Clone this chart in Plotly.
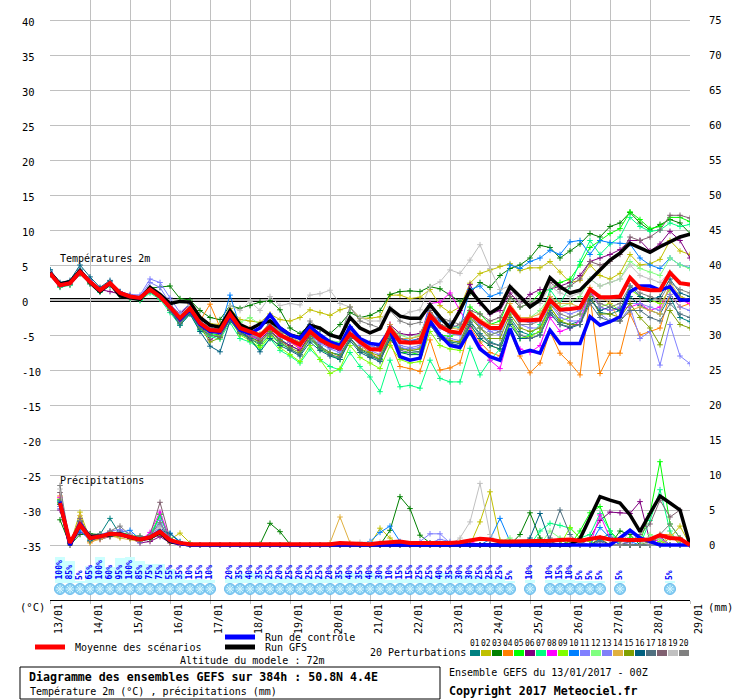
import plotly.graph_objects as go

# ---------------- data ----------------
hours = list(range(0, 385, 6))            # 65 steps of 6 h (13/01 00Z .. 29/01 00Z)
precip_hours = hours[1:]                  # 6-h totals valid at end of each step
day_hours = list(range(0, 385, 24))
day_labels = ["13/01", "14/01", "15/01", "16/01", "17/01", "18/01", "19/01", "20/01", "21/01",
              "22/01", "23/01", "24/01", "25/01", "26/01", "27/01", "28/01", "29/01"]
temp_ticks = list(range(-35, 41, 5))
precip_ticks = list(range(0, 76, 5))

member_names = ["01", "02", "03", "04", "05", "06", "07", "08", "09", "10",
                "11", "12", "13", "14", "15", "16", "17", "18", "19", "20"]
member_colors = ["#008080", "#c0c000", "#008000", "#ff8000", "#00ff00", "#800080", "#00ff80",
                 "#ff00ff", "#80ff00", "#0080ff", "#8080ff", "#80ff80", "#8080f8", "#e0b040",
                 "#80a000", "#006080", "#507080", "#806070", "#c0c0c0", "#808080"]

t_mean = [3.8, 2.1, 2.4, 4.0, 2.6, 1.4, 2.4, 1.0, 0.5, 0.3,
          1.5, 0.5, -1.0, -2.6, -1.2, -3.3, -4.3, -4.4, -2.0, -4.0,
          -4.5, -5.1, -3.8, -5.0, -5.7, -6.4, -4.5, -5.7, -6.4, -6.9,
          -4.8, -6.0, -7.0, -7.1, -4.1, -6.0, -6.1, -6.0, -2.2, -3.8,
          -4.5, -4.7, -1.9, -3.1, -4.0, -4.0, -1.1, -2.9, -2.9, -2.8,
          0.0, -1.4, -1.3, -1.1, 1.5, 0.4, 0.4, 0.5, 3.2, 1.7,
          1.4, 1.4, 3.9, 2.4, 2.2]
t_gfs = [3.9, 2.3, 2.6, 4.2, 2.5, 1.2, 2.4, 0.6, 0.3, 0.1, 1.8, 0.8,
         -0.5, -0.2, -0.3, -2.5, -3.6, -3.9, -1.5, -3.5, -4.2,
         -3.4, -3.0, -4.0, -5.0, -5.4, -3.6, -4.0, -5.0, -5.4, -2.5, -4.0, -4.7, -4.1, -1.2, -2.3, -2.6, -2.6, -0.7, -2.4, -4.0, -1.5,
         1.4, -0.3, -1.9, -1.0, 1.9, 0.5, -1.0, 0.0, 3.2, 1.9, 1.0, 1.4, 2.9, 4.3, 5.7, 6.7, 8.1, 7.4, 6.8, 7.6, 8.3, 9.0, 9.4]
t_ctrl = [3.8, 2.1, 2.4, 4.0, 2.6, 1.4, 2.4, 1.0, 0.5, 0.3, 1.5, 0.5,
          -1.0, -2.8, -1.4, -3.5, -4.5, -4.6, -2.3, -4.3, -4.8,
          -4.0, -2.1, -4.0, -5.0, -5.5, -3.8, -5.0, -6.0, -6.5, -3.8, -5.5, -6.2, -6.4, -4.3, -8.1, -8.6, -8.3, -3.0, -5.0, -6.5, -6.8,
          -4.4, -7.0, -8.1, -8.6, -4.1, -7.6, -7.2, -7.6, -4.3, -6.2, -6.2, -6.2, -2.4, -3.6, -3.1, -2.4, 1.2, 2.0, 2.0, 1.4, 1.9, 0.0, 0.0]

t01 = [4.3, 2.3, 2.6, 4.4, 2.9, 1.6, 2.5, 1.1, 0.4, 0.2, 1.6, 0.6,
       -1.5, -3.4, -1.8, -4.2, -5.0, -5.3, -2.8, -4.6, -5.2,
       -6.0, -4.5, -5.6, -6.5, -7.2, -5.0, -6.6, -7.5, -7.8, -5.4, -7.0, -7.8, -8.4, -5.0, -6.8, -7.2, -7.4, -3.6, -5.2, -6.0, -6.2,
       -3.0, -4.8, -6.0, -6.5, -2.5, -4.5, -5.0, -4.6, -1.5, -3.2, -3.5, -3.0, 0.5, -1.8, -2.0, -1.5, 0.5, -0.8, -1.5, -2.0, 0.5, -2.5, -3.1]
t02 = [3.6, 2.0, 2.3, 3.8, 2.5, 1.3, 2.2, 0.8, 0.3, 0.1, 1.3, 0.3,
       -0.8, -2.0, -0.6, -2.5, -3.4, -3.5, -1.2, -2.8, -3.0,
       -3.2, -2.0, -2.8, -3.0, -2.5, -1.4, -1.8, -2.2, -1.4, -1.0, -2.6, -2.6, -2.4, 0.7, 0.7, 0.2, 0.4, 1.5, -0.8, -1.8, -1.0,
       2.4, 3.8, 4.3, 4.8, 5.2, 4.2, 4.6, 4.6, 5.5, 4.0, 2.5, 2.8, 5.0, 3.5, 3.0, 3.8, 6.5, 5.0, 5.2, 5.8, 8.5, 7.0, 6.5]
t03 = [4.0, 2.2, 2.6, 4.2, 2.7, 1.5, 2.6, 1.2, 0.6, 0.4, 1.7, 1.8,
       2.0, 0.2, 0.0, -1.5, -2.5, -2.8, -0.8, -1.2, -0.8,
       -0.3, -0.1, -1.4, -4.0, -4.8, -3.5, -4.2, -4.8, -3.5, -1.8, -2.5, -2.2, -1.5, 0.8, 1.2, 1.3, 1.2, 1.9, 1.6, 0.7, -0.2,
       1.0, 2.5, 1.8, 3.5, 4.5, 5.0, 6.0, 7.8, 7.5, 6.0, 7.0, 8.0, 9.5, 9.0, 10.5, 11.0, 12.5, 11.0, 10.0, 10.8, 11.5, 11.0, 9.5]
t04 = [3.9, 2.0, 2.3, 3.9, 2.5, 1.3, 2.3, 0.9, 0.4, 0.1, 1.4, 0.3,
       -1.2, -2.9, -1.0, -3.0, -0.6, -3.9, -2.2, -3.5, -4.0,
       -5.5, -3.5, -5.0, -6.0, -7.0, -4.0, -5.5, -6.5, -7.0, -4.0, -6.5, -7.5, -8.5, -6.0, -9.5, -9.8, -10.2, -5.7, -10.0, -9.7, -9.0,
       -3.8, -6.0, -7.5, -8.0, -4.5, -8.0, -10.4, -9.0, -4.5, -7.6, -9.0, -10.7, 0.5, -10.5, -7.6, -7.6, -2.0, -5.0, -4.5, -4.0, 0.8, -1.0, -0.5]
t05 = [3.7, 1.9, 2.2, 3.9, 2.4, 1.2, 2.2, 0.8, 0.3, 0.0, 1.2, 0.2,
       -1.3, -3.2, -1.6, -3.8, -4.8, -5.0, -2.6, -4.8, -5.5,
       -6.5, -5.0, -6.2, -7.0, -7.8, -5.5, -7.0, -7.8, -8.5, -5.5, -7.2, -8.0, -8.5, -5.5, -7.5, -7.5, -7.8, -3.0, -5.0, -5.2, -4.5,
       -1.0, -2.0, -3.5, -3.0, 0.5, -1.0, -0.5, 1.0, 1.5, 2.5, 3.0, 5.0, 7.5, 8.5, 9.5, 10.2, 12.6, 11.5, 10.2, 10.5, 11.8, 11.8, 11.2]
t06 = [3.8, 2.2, 2.5, 4.1, 2.6, 1.5, 1.2, 0.9, 0.5, 0.2, 1.4, 0.4,
       -0.8, -2.0, -0.5, -3.4, -5.7, -4.8, -2.4, -4.2, -5.0,
       -5.8, -4.2, -5.8, -6.5, -7.2, -5.0, -6.0, -6.8, -7.2, -4.8, -5.5, -6.2, -6.8, -3.5, -4.8, -5.0, -4.8, -1.8, -3.0, -3.5, -1.5,
       2.2, -0.5, -2.0, -1.5, 1.0, -0.5, 0.8, 1.5, 1.5, 2.0, 2.5, 3.5, 5.5, 6.0, 6.5, 7.2, 8.5, 8.5, 7.0, 8.0, 9.8, 8.5, 6.0]
t07 = [3.6, 1.8, 2.1, 3.7, 2.3, 1.1, 2.0, 0.7, 0.2, -0.1, 1.0, 0.1,
       -1.8, -3.6, -2.0, -4.4, -5.2, -5.6, -3.2, -5.5, -6.0,
       -7.0, -5.5, -7.2, -8.0, -9.0, -7.0, -8.5, -9.5, -10.0, -7.5, -9.5, -11.0, -13.1, -8.6, -12.4, -12.2, -12.6, -8.6, -11.2, -11.7, -11.7,
       -6.9, -10.7, -8.6, -7.0, -3.0, -5.5, -5.0, -3.5, 1.5, -0.5, 2.0, 5.5, 8.5, 6.5, 8.0, 9.0, 11.8, 10.5, 9.8, 10.0, 11.0, 10.5, 10.8]
t08 = [3.9, 2.1, 2.4, 4.0, 2.7, 1.4, 2.4, 1.0, 0.6, 0.3, 1.5, 0.5,
       -1.0, -2.8, -1.4, -3.6, -4.6, -4.6, -2.2, -4.3, -5.2,
       -5.5, -4.0, -5.2, -6.0, -6.8, -4.2, -5.5, -6.2, -6.8, -4.0, -5.8, -6.5, -7.0, -3.5, -5.5, -6.0, -5.5, -0.5, -0.3, 1.0, -1.5,
       -4.0, -6.5, -8.6, -9.8, -4.5, -7.0, -7.5, -6.5, -2.5, -4.5, -4.0, -3.0, 1.4, -1.0, -1.5, -1.2, -1.0, -0.5, -1.5, -1.0, 1.8, 0.0, -0.5]
t09 = [3.7, 2.0, 2.3, 3.8, 2.4, 1.3, 2.3, 0.9, 0.4, 0.2, 1.4, 0.4,
       -1.4, -3.3, -1.8, -4.0, -5.0, -5.2, -2.8, -5.0, -5.8,
       -6.8, -5.2, -6.8, -7.8, -8.8, -6.5, -8.5, -10.5, -9.8, -6.5, -8.2, -9.0, -9.8, -6.5, -8.5, -9.0, -8.8, -4.5, -6.5, -7.0, -7.2,
       -3.5, -5.5, -6.5, -7.0, -3.0, -5.5, -5.2, -4.5, -1.0, -3.0, -2.5, -2.0, 1.0, -1.0, -0.5, -1.5, 1.5, 0.5, 0.0, -0.5, 1.5, 0.5, 0.0]
t10 = [3.9, 2.2, 2.5, 4.1, 2.7, 1.5, 2.5, 1.1, 0.6, 0.4, 1.6, 0.6,
       -0.6, -2.2, -0.9, -3.0, -4.0, -4.2, 0.7, -3.8, -4.5,
       -5.0, -3.2, -4.8, -5.5, -6.0, -3.5, -5.0, -5.8, -6.2, -3.8, -5.5, -6.5, -7.0, -4.0, -5.5, -5.8, -5.5, -0.8, -3.0, -3.5, -4.0,
       1.5, 2.0, 0.5, 1.0, 5.0, 4.5, 5.5, 6.0, 7.1, 6.5, 8.3, 8.5, 6.5, 8.5, 8.2, 8.1, 8.0, 6.0, 5.0, 4.5, 6.0, 5.0, 4.6]
t11 = [4.1, 2.3, 2.6, 4.2, 2.8, 1.6, 2.6, 1.2, 0.8, 0.7, 3.0, 2.5,
       0.3, -1.8, -0.5, -3.0, -4.2, -4.8, -2.2, -4.2, -4.8,
       -5.5, -3.8, -5.0, -6.0, -6.5, -4.8, -6.2, -7.0, -7.5, -5.0, -6.5, -7.2, -7.8, -4.8, -6.8, -7.0, -6.8, -3.0, -5.0, -5.5, -5.8,
       -2.5, -3.5, -4.5, -5.0, -1.5, -3.5, -4.0, -4.0, -0.5, -2.5, -3.0, -3.0, 0.5, -2.0, -3.0, -3.0, -1.0, -5.5, -4.5, -9.3, -3.5, -8.0, -9.1]
t12 = [3.8, 2.1, 2.4, 3.9, 2.6, 1.4, 2.4, 1.0, 0.5, 0.3, 1.5, 0.5,
       -1.2, -2.4, -1.5, -3.5, -4.2, -4.6, -2.0, -3.2, -2.5,
       -3.5, -3.0, -4.5, -5.2, -5.5, -4.0, -5.2, -5.8, -6.0, -4.0, -5.5, -6.2, -6.5, -3.8, -5.0, -5.5, -5.0, -1.5, -3.5, -4.0, -3.8,
       -2.5, -4.0, -5.0, -4.5, -1.5, -3.0, -2.5, -1.5, 0.5, -1.0, -0.5, 0.5, 3.0, 2.0, 2.5, 3.0, 5.5, 4.5, 4.0, 3.5, 6.0, 5.0, 4.5]
t13 = [4.0, 2.2, 2.5, 4.0, 2.7, 1.5, 2.5, 1.1, 0.7, 0.5, 2.5, 1.8,
       -0.5, -2.2, -0.8, -3.2, -4.5, -4.8, -2.0, -4.0, -4.8,
       -5.0, -3.5, -4.8, -5.5, -6.2, -4.0, -5.2, -6.0, -6.5, -4.2, -5.8, -6.5, -7.0, -4.5, -6.5, -6.8, -6.5, -2.0, -4.0, -4.8, -5.0,
       -2.0, -3.2, -4.2, -4.5, -1.2, -3.0, -3.2, -3.0, 0.5, -1.5, -2.0, -1.5, 1.0, -1.0, -1.5, -1.0, -0.5, -0.5, -1.0, -1.5, 0.8, -1.0, -1.5]
t14 = [3.7, 2.0, 2.3, 3.9, 2.5, 1.3, 2.3, 0.9, 0.4, 0.2, 1.4, 0.4,
       -1.0, -2.6, -1.2, -3.4, -4.4, -4.2, -1.8, -3.6, -4.2,
       -4.8, -3.2, -4.5, -5.2, -6.0, -3.8, -5.2, -6.0, -6.5, -4.0, -5.5, -6.2, -6.5, -3.5, -5.5, -5.5, -5.2, -1.8, -3.5, -4.0, -4.2,
       -1.5, -2.8, -3.5, -3.5, -0.5, -2.5, -2.5, -2.0, 0.5, -0.5, -0.5, -1.0, 1.8, 0.5, -0.5, -3.0, -1.5, -1.0, -1.5, -2.0, 2.5, 0.5, 0.0]
t15 = [3.8, 2.0, 2.4, 3.9, 2.5, 1.4, 2.4, 1.0, 0.5, 0.2, 1.4, 0.4,
       -1.3, -3.0, -1.6, -3.8, -6.0, -5.4, -2.6, -4.6, -5.4,
       -6.0, -4.5, -5.8, -6.8, -7.5, -5.2, -6.8, -7.5, -8.0, -5.5, -7.0, -7.5, -8.0, -5.0, -7.0, -7.2, -7.0, -3.2, -5.0, -5.8, -6.0,
       -2.5, -4.0, -5.5, -5.5, -2.0, -4.0, -4.5, -4.0, -1.0, -3.0, -3.5, -3.5, 0.5, -2.0, -2.0, -2.5, -0.5, -2.5, -4.0, -6.4, -1.5, -3.5, -4.0]
t16 = [4.3, 2.5, 2.8, 5.0, 3.3, 1.8, 2.8, 1.1, 0.5, 0.2, 1.6, 0.5,
       -1.5, -3.6, -2.0, -4.5, -6.6, -7.4, -3.0, -4.5, -5.5,
       -7.4, -5.5, -6.5, -7.2, -8.0, -6.0, -7.2, -8.0, -8.5, -5.8, -7.5, -8.2, -8.8, -5.5, -7.5, -7.8, -7.8, -3.5, -5.5, -6.2, -6.5,
       -3.5, -5.5, -6.5, -7.0, -3.5, -5.5, -5.5, -5.0, -2.0, -3.5, -4.0, -3.5, 0.0, -1.5, -1.0, -1.5, 2.0, 0.5, 0.0, 0.5, 3.0, 1.0, 0.5]
t17 = [3.6, 1.9, 2.2, 3.8, 2.3, 1.2, 2.1, 0.8, 0.3, 0.1, 1.3, 0.3,
       -1.5, -3.3, -1.8, -4.0, -5.0, -5.3, -2.8, -4.8, -5.6,
       -6.2, -4.8, -6.0, -7.0, -7.8, -5.5, -6.8, -7.8, -8.2, -5.5, -7.2, -8.0, -8.6, -5.2, -7.2, -7.5, -7.4, -3.5, -5.5, -6.2, -6.6,
       -3.2, -5.0, -6.2, -6.5, -2.8, -5.0, -5.5, -5.0, -1.8, -3.5, -3.8, -3.5, -0.5, -2.5, -3.0, -3.0, -1.5, -1.5, -2.5, -3.0, -0.5, -2.0, -2.5]
t18 = [3.9, 2.1, 2.5, 4.1, 2.6, 1.4, 2.4, 1.0, 0.5, 0.3, 1.5, 0.5,
       -1.0, -2.4, -1.0, -3.0, -4.0, -4.2, -1.8, -3.8, -4.2,
       -5.0, -3.5, -4.8, -5.5, -6.2, -4.0, -5.5, -6.0, -6.5, -4.0, -5.5, -6.2, -6.8, -3.8, -5.5, -6.0, -5.5, -1.5, -3.5, -4.0, -3.5,
       -1.5, -2.0, -3.0, -2.5, 0.5, -1.0, -0.5, 0.0, 2.5, 1.5, 2.0, 3.0, 5.5, 5.0, 5.5, 6.5, 9.0, 8.5, 9.0, 10.0, 12.1, 12.1, 11.7]
t19 = [3.8, 2.1, 2.4, 4.0, 2.6, 1.4, 2.5, 1.0, 0.5, 0.3, 1.6, 0.6,
       -0.8, -2.2, -0.8, -2.8, -3.5, -3.8, -0.8, -1.5, -0.2,
       -1.5, 0.5, -0.8, -0.5, -0.7, 0.7, 0.9, 1.4, -0.5, -1.0, -2.5, -3.0, -3.0, -1.0, -2.4, -1.7, -1.4, 1.9, 2.6, 4.3, 3.8,
       5.7, 7.9, 4.5, 1.5, 2.0, -0.5, 0.0, -0.5, 2.0, 1.0, 0.5, 1.0, 3.0, 2.0, 2.5, 3.0, 5.0, 3.5, 3.0, 2.5, 4.0, 2.5, 2.0]
t20 = [3.7, 2.0, 2.3, 3.9, 2.5, 1.3, 2.3, 0.9, 0.4, 0.2, 1.4, 0.4,
       -1.2, -3.0, -1.5, -3.6, -4.5, -4.8, -2.4, -4.4, -5.0,
       -5.5, -3.0, -4.5, -5.0, -5.5, -3.0, -4.2, -5.0, -5.5, -1.0, -3.0, -3.5, -4.0, -1.5, -3.0, -3.5, -3.2, -0.5, -2.5, -3.0, -3.5,
       -2.0, -4.0, -5.0, -4.5, -1.5, -3.5, -3.5, -3.0, -0.5, -2.0, -2.5, -2.0, 1.0, -0.5, -1.0, -0.5, 2.0, 1.0, 0.5, 0.0, 2.5, 1.5, 1.0]

# precipitation (mm / 6 h), steps 1..64
p_mean = [6.0, 0.3, 2.9, 1.0, 1.2, 1.6, 1.5, 1.2, 0.8, 1.1, 1.9, 0.7, 0.3, 0.1,
          0.1, 0.1, 0.1, 0.1, 0.1, 0.1, 0.1, 0.2, 0.2, 0.1,
          0.1, 0.1, 0.1, 0.1, 0.3, 0.2, 0.2, 0.1, 0.3, 0.4,
          0.5, 0.3, 0.3, 0.2, 0.2, 0.3, 0.4, 0.6, 0.9, 0.8,
          0.5, 0.5, 0.5, 0.6, 0.5, 0.6, 0.7, 0.8, 0.6, 0.9,
          1.1, 0.8, 0.7, 0.7, 0.7, 0.8, 1.4, 1.0, 0.9, 0.0]
p_gfs = [6.0, 0, 2.9, 1.2, 1.3, 1.5, 1.6, 1.1, 0.8, 1.0, 1.8, 0.5, 0.2, 0,
         0, 0, 0, 0, 0, 0, 0, 0, 0, 0,
         0, 0, 0, 0, 0, 0, 0, 0, 0, 0,
         0, 0, 0, 0, 0, 0, 0, 0, 0, 0,
         0, 0, 0, 0, 0, 0, 0, 0, 0.9, 3.9,
         6.9, 6.4, 6.0, 4.3, 1.9, 4.5, 7.0, 6.0, 5.0, 0]
p_ctrl = [6.2, 0, 3.1, 1.0, 1.2, 1.6, 1.5, 1.2, 0.8, 1.1, 2.0, 0.6, 0.2, 0,
          0, 0, 0, 0, 0, 0, 0, 0, 0, 0,
          0, 0, 0, 0, 0, 0, 0, 0, 0, 0,
          0, 0, 0, 0, 0, 0, 0, 0, 0, 0,
          0, 0, 0, 0, 0, 0, 0, 0, 0, 0,
          0, 0, 1.0, 2.1, 1.0, 0.5, 0, 0, 0, 0]
p01 = [6.0, 0, 2.5, 1.0, 1.5, 3.8, 1.5, 1.0, 0.5, 1.0, 1.5, 0.5, 0.2, 0,
       0, 0, 0, 0, 0, 0, 0, 0, 0, 0,
       0, 0, 0, 0, 0, 0, 0, 0, 0, 0,
       0, 0, 0, 0, 0, 0, 0, 0, 0, 0,
       0, 0, 0, 0, 0, 0.5, 0.8, 0, 0, 0,
       1.0, 1.5, 0, 0, 0, 0.5, 1.2, 0, 0, 0]
p02 = [5.5, 0, 4.7, 0.8, 1.0, 1.5, 1.2, 1.5, 0.5, 1.5, 2.0, 0.8, 1.7, 0.3,
       0, 0, 0, 0, 0, 0, 0, 0, 0, 0,
       0, 0, 0, 0, 0, 0, 0, 0, 2.4, 1.0,
       0, 0, 0, 0, 0, 0, 0, 0, 3.3, 7.6,
       0.7, 0.5, 0, 0, 0, 0, 0, 0, 0, 0,
       0, 0, 0, 0, 0, 0, 0, 1.0, 2.7, 0]
p03 = [3.6, 0, 1.5, 1.6, 1.5, 1.5, 2.0, 1.0, 1.0, 0.8, 4.4, 0.5, 0.3, 0,
       0, 0, 0, 0, 0, 0, 0.1, 3.1, 1.9, 0.1,
       0, 0, 0, 0, 0, 0, 0, 0, 0, 2.1,
       6.9, 5.2, 1.4, 0.3, 0, 0, 0, 0, 0, 0,
       0, 0, 1.5, 4.6, 1.0, 0, 0, 0, 0, 0,
       0, 0, 2.0, 1.5, 0, 0, 0, 0, 0, 0]
p04 = [7.0, 0.2, 3.0, 0.3, 1.0, 1.8, 1.2, 1.2, 0.8, 1.2, 1.5, 0.5, 0.2, 0,
       0, 0, 0, 0, 0, 0, 0, 0, 0, 0,
       0, 0, 0, 0, 0, 0, 0, 0, 0, 0,
       0, 0, 0, 0, 0, 0.3, 0.5, 0, 0, 0,
       0, 0, 0, 0, 0, 0, 0, 0, 0, 0,
       1.0, 0, 0, 0, 0, 0, 1.5, 1.5, 0, 0]
p05 = [6.5, 0, 3.5, 0.8, 1.2, 1.6, 1.8, 1.5, 1.0, 1.2, 4.4, 0.8, 0.3, 0,
       0, 0, 0, 0, 0, 0, 0, 0, 0, 0,
       0, 0, 0, 0, 0, 0, 0, 0, 0, 0,
       0, 0, 0, 0, 0, 0, 0, 0, 0, 0,
       0, 0, 0, 0, 0, 0, 0, 0, 2.0, 4.6,
       5.5, 2.0, 0.5, 1.0, 0.5, 4.5, 11.9, 3.0, 1.0, 0]
p06 = [5.0, 0.3, 1.8, 1.2, 0.8, 1.2, 1.4, 1.0, 0.3, 0.5, 1.2, 0.3, 0, 0,
       0, 0, 0, 0, 0, 0, 0, 0, 0, 0,
       0, 0, 0, 0, 0, 0, 0, 0, 0, 0,
       0, 0, 0, 0, 0, 0, 0, 0, 0, 0,
       0, 0, 0, 0, 0, 0, 0, 0, 0, 1.0,
       3.5, 4.7, 4.6, 4.5, 6.2, 0.5, 0.8, 0, 0, 0]
p07 = [6.2, 0, 3.0, 0.9, 1.3, 1.5, 1.5, 1.3, 0.8, 1.5, 4.0, 1.0, 0.3, 0.1,
       0, 0, 0, 0, 0, 0, 0, 0, 0, 0,
       0, 0, 0, 0, 0, 0, 0, 0, 0, 0,
       0, 0, 0, 0, 0, 0, 0, 0, 0, 0,
       0, 0, 0, 0, 2.0, 3.1, 2.8, 2.4, 1.0, 1.5,
       4.5, 2.0, 0, 0, 0, 3.5, 7.9, 2.0, 0, 0]
p08 = [6.8, 0, 3.2, 1.0, 1.0, 1.8, 1.6, 1.2, 0.6, 1.8, 4.7, 0.8, 0.2, 0,
       0, 0, 0, 0, 0, 0, 0, 0, 0, 0,
       0, 0, 0, 0, 0, 0, 0, 0, 0, 0,
       0, 0, 0, 0, 0, 0, 0, 0.5, 0, 0,
       0, 0, 0, 0, 0, 0, 0, 0, 0, 0,
       4.3, 1.0, 0, 0, 0, 0, 1.0, 0, 0, 0]
p09 = [5.8, 0, 2.8, 0.5, 1.5, 1.4, 1.2, 1.4, 1.2, 1.0, 2.5, 0.6, 0.3, 0,
       0, 0, 0, 0, 0, 0, 0, 0, 0, 0,
       0, 0, 0, 0, 0, 0, 0, 0, 0, 0,
       0, 0, 0, 0, 0, 0, 0, 0, 0, 0,
       0, 0, 0, 0, 0, 0, 0, 2.5, 1.0, 0.5,
       0, 0, 0, 0, 0, 0, 0.5, 0, 0, 0]
p10 = [6.3, 0.2, 2.0, 0.7, 1.2, 1.5, 1.7, 2.1, 0.8, 1.0, 2.0, 1.7, 0.5, 0,
       0, 0, 0, 0, 0, 0, 0, 0, 0, 0,
       0, 0, 0, 0, 0, 0, 0, 0.5, 1.8, 2.7,
       0.5, 0, 0, 0, 0, 0, 0, 0, 0, 0.8,
       3.8, 0.5, 0, 0, 0, 0, 0, 0, 0, 0,
       2.5, 1.0, 0, 0.5, 0, 0, 0, 0, 0, 0]
p11 = [5.2, 0, 3.3, 1.2, 1.4, 2.0, 2.2, 1.6, 0.4, 1.2, 3.5, 0.5, 0.2, 0,
       0, 0, 0, 0, 0, 0, 0, 0, 0, 0,
       0, 0, 0, 0, 0, 0, 0, 0, 0, 0,
       0, 0, 0.5, 1.6, 1.6, 0.3, 0, 0, 0, 0,
       0, 0, 0, 0, 0, 0, 0, 0, 0, 0,
       0, 0, 0, 0, 1.0, 0, 0, 0, 0, 0]
p12 = [6.0, 0, 3.1, 0.8, 1.0, 1.5, 1.4, 1.3, 0.9, 1.0, 2.2, 0.7, 0.2, 0,
       0, 0, 0, 0, 0, 0, 0, 0, 0, 0,
       0, 0, 0, 0, 0, 0, 0, 0, 0, 0,
       0, 0, 0, 0, 0, 0, 0, 0, 0, 0,
       0.5, 1.0, 0, 0, 0, 2.0, 1.0, 0, 0, 0,
       0, 0, 0, 0, 0, 1.5, 0.8, 0, 0, 0]
p13 = [5.5, 0, 2.7, 1.1, 1.3, 1.6, 1.9, 1.2, 0.7, 0.9, 3.0, 0.6, 0.3, 0,
       0, 0, 0, 0, 0, 0, 0, 0, 0, 0,
       0, 0, 0, 0, 0, 0, 0, 0, 0, 0,
       0, 0, 0, 0.3, 0.8, 0.5, 0, 0, 0, 0,
       0, 0, 0, 0, 0, 0, 0, 0, 0, 0,
       0, 0, 0.7, 0, 0, 0, 0, 0, 0, 0]
p14 = [6.6, 0, 4.2, 0.5, 0.8, 1.3, 1.0, 0.8, 0.5, 1.1, 1.8, 0.4, 0.2, 0,
       0, 0, 0, 0, 0, 0, 0, 0, 0, 0,
       0, 0, 0, 0.3, 4.0, 0.3, 0, 0, 0, 0,
       0, 0, 0, 0, 0, 0, 0, 0, 0, 0,
       0, 0, 0, 0, 0, 0, 0, 0, 0, 0,
       0, 0, 0, 0, 0, 0, 0, 1.5, 0.5, 0]
p15 = [6.1, 0, 2.9, 1.0, 1.2, 1.4, 1.3, 1.1, 1.0, 0.8, 1.6, 0.5, 0.2, 0,
       0, 0, 0, 0, 0, 0, 0, 0, 0, 0,
       0, 0, 0, 0, 0, 0, 0, 0, 0, 0,
       0, 0, 0, 0, 0, 0, 0, 0, 0, 0,
       0, 0, 0, 0, 0, 0, 0, 0.5, 0.3, 0,
       0, 0, 0, 0, 0, 0.5, 0, 0, 0, 0]
p16 = [5.8, 0.2, 3.4, 0.6, 1.1, 1.7, 1.5, 1.2, 0.6, 1.3, 2.2, 1.6, 0.4, 0.1,
       0, 0, 0, 0, 0, 0, 0, 0, 0, 0,
       0, 0, 0, 0, 0, 0, 0, 0, 0, 0,
       0, 0, 0, 0, 0, 0, 0, 0, 0, 0,
       0, 0, 0, 1.0, 4.5, 0.5, 0, 0, 0, 0,
       0.8, 0, 0, 0, 0, 0, 0, 0, 0, 0]
p17 = [6.4, 0, 2.6, 1.3, 1.6, 1.2, 1.6, 1.2, 1.3, 1.0, 1.8, 0.7, 0.2, 0,
       0, 0, 0, 0, 0, 0, 0, 0, 0, 0,
       0, 0, 0, 0, 0, 0, 0, 0, 0, 0,
       0, 0, 0, 0, 0, 0, 0, 0, 0, 0,
       0, 0, 0, 0, 0, 1.0, 5.0, 1.5, 0, 0,
       0.5, 0, 0, 0, 0, 0, 0, 0, 0, 0]
p18 = [7.5, 0, 3.8, 0.9, 1.1, 1.9, 1.7, 1.4, 0.8, 1.4, 6.1, 0.9, 0.3, 0,
       0, 0, 0, 0, 0, 0, 0, 0, 0, 0,
       0, 0, 0, 0, 0, 0, 0, 0, 0, 0,
       0, 0, 0, 0, 0, 0, 0, 0, 0, 0,
       0, 0, 0, 0, 0, 0, 0, 0, 0, 0,
       0, 0, 0, 0.5, 1.5, 3.0, 6.4, 4.0, 5.0, 0]
p19 = [8.0, 0, 3.0, 1.0, 1.3, 1.6, 1.4, 1.5, 0.8, 1.2, 2.5, 0.6, 0.3, 0,
       0, 0, 0, 0, 0, 0, 0, 0, 0, 0,
       0, 0, 0, 0, 0, 0, 0.4, 0.4, 0.4, 0,
       0, 0, 0, 0, 0, 0, 1.0, 3.3, 8.8, 1.5,
       0, 0, 0, 0, 0, 0, 0, 0, 0, 0,
       0, 0, 0, 2.0, 0.5, 0, 0, 0, 0, 0]
p20 = [8.5, 0.3, 3.5, 1.5, 1.0, 2.0, 2.7, 1.4, 1.0, 1.3, 3.2, 0.8, 0.2, 0,
       0, 0, 0, 0, 0, 0, 0, 0, 0, 0,
       0, 0, 0, 0, 0, 0, 0, 0, 0, 0,
       0, 0, 0, 0, 0, 0, 0, 0, 0, 0,
       0, 0, 0, 0, 0, 0, 0, 0, 0.5, 0,
       0, 0, 0, 0, 0, 0, 1.5, 3.0, 1.0, 0]

# snow probability (% of members) per 6-h step
snow_step = [1, 2, 3, 4, 5, 6, 7, 8, 9, 10, 11, 12, 13, 14, 15, 16,
             18, 19, 20, 21, 22, 23, 24, 25, 26, 27, 28, 29, 30, 31, 32, 33, 34, 35, 36, 37, 38, 39, 40,
             41, 42, 43, 44, 45, 46, 48, 50, 51, 52, 53, 54, 55, 57, 62]
snow_pct = [100, 85, 5, 65, 100, 60, 95, 100, 85, 75, 75, 55, 35, 10, 15, 10,
            20, 35, 40, 35, 25, 20, 25, 20, 25, 25, 20, 35, 40, 35, 40, 30, 10, 15, 15, 25, 25, 40, 35,
            30, 30, 25, 25, 25, 5, 10, 10, 15, 10, 5, 5, 5, 5, 5]

members_t = [t01, t02, t03, t04, t05, t06, t07, t08, t09, t10,
             t11, t12, t13, t14, t15, t16, t17, t18, t19, t20]
members_p = [p01, p02, p03, p04, p05, p06, p07, p08, p09, p10,
             p11, p12, p13, p14, p15, p16, p17, p18, p19, p20]
for s in members_t + [t_mean, t_gfs, t_ctrl]:
    assert len(s) == len(hours), len(s)
for s in members_p + [p_mean, p_gfs, p_ctrl]:
    assert len(s) == len(precip_hours), len(s)
assert len(snow_step) == len(snow_pct)

# ---------------- layout geometry ----------------
W, H = 740, 700
ML, MR, MT, MB = 50, 50, 0, 100
PW, PH = W - ML - MR, H - MT - MB
PX_PER_DEG = 7.0
Y_HALF = (PH / 2) / PX_PER_DEG              # 0 degC sits mid-height
SNOW_BASE_PX = 583                          # base of the snow probability strip
SNOW_PX_PER_PCT = 0.26

def px_x(px):
    return (px - ML) / PW

def px_y(py):
    return (H - MB - py) / PH

FONT = "DejaVu Sans Mono"
fig = go.Figure()

# snow probability boxes + flakes
snow_x = [hours[k] for k in snow_step]
fig.add_trace(go.Bar(x=snow_x, y=snow_pct, width=6, marker=dict(color="#ccffff", line=dict(width=0)),
                     yaxis="y3", showlegend=False, hoverinfo="skip"))
fig.add_trace(go.Scatter(x=snow_x, y=[-23] * len(snow_x), mode="markers", yaxis="y3",
                         marker=dict(symbol="circle", size=11, color="#86cff2",
                                     line=dict(color="#6cbbee", width=1)),
                         showlegend=False, hoverinfo="skip"))
fig.add_trace(go.Scatter(x=snow_x, y=[-23] * len(snow_x), mode="markers", yaxis="y3",
                         marker=dict(symbol="asterisk-open", size=7, color="#d8f6ff",
                                     line=dict(color="#d8f6ff", width=1)),
                         showlegend=False, hoverinfo="skip"))

# temperature perturbations
for s, c in zip(members_t, member_colors):
    fig.add_trace(go.Scatter(x=hours, y=s, mode="lines+markers",
                             line=dict(color=c, width=1),
                             marker=dict(symbol="cross-thin", size=4, line=dict(color=c, width=1)),
                             showlegend=False, hoverinfo="skip"))
fig.add_trace(go.Scatter(x=hours, y=t_gfs, mode="lines", line=dict(color="black", width=3.5),
                         showlegend=False, hoverinfo="skip"))
fig.add_trace(go.Scatter(x=hours, y=t_ctrl, mode="lines", line=dict(color="#0000ff", width=3.5),
                         showlegend=False, hoverinfo="skip"))
fig.add_trace(go.Scatter(x=hours, y=t_mean, mode="lines", line=dict(color="#ff0000", width=4),
                         showlegend=False, hoverinfo="skip"))

# precipitation (right axis, mm)
for s, c in zip(members_p, member_colors):
    fig.add_trace(go.Scatter(x=precip_hours, y=s, mode="lines+markers", yaxis="y2",
                             line=dict(color=c, width=1),
                             marker=dict(symbol="cross-thin", size=4, line=dict(color=c, width=1)),
                             showlegend=False, hoverinfo="skip"))
fig.add_trace(go.Scatter(x=precip_hours, y=p_gfs, mode="lines", yaxis="y2",
                         line=dict(color="black", width=3.5), showlegend=False, hoverinfo="skip"))
fig.add_trace(go.Scatter(x=precip_hours, y=p_ctrl, mode="lines", yaxis="y2",
                         line=dict(color="#0000ff", width=3.5), showlegend=False, hoverinfo="skip"))
fig.add_trace(go.Scatter(x=precip_hours, y=p_mean, mode="lines", yaxis="y2",
                         line=dict(color="#ff0000", width=4), showlegend=False, hoverinfo="skip"))

annotations = []
shapes = []

# zero-degree double line
for yv in (0.2, -0.2):
    shapes.append(dict(type="line", xref="paper", x0=0, x1=1, yref="y", y0=yv, y1=yv,
                       line=dict(color="black", width=1.3), layer="between"))

# left tick labels (left aligned)
for v in temp_ticks:
    annotations.append(dict(x=px_x(20), xref="paper", xanchor="left", y=v, yref="y", yanchor="middle",
                            yshift=-2, text=str(v), showarrow=False, font=dict(family=FONT, size=10.5)))

# date labels
for h, lab in zip(day_hours, day_labels):
    annotations.append(dict(x=h, xref="x", y=0, yref="paper", xanchor="center", yanchor="top",
                            xshift=8, yshift=-2, textangle=-90, text=lab, showarrow=False,
                            font=dict(family=FONT, size=10)))

# snow percentages
for k, p in zip(snow_step, snow_pct):
    annotations.append(dict(x=hours[k], xref="x", y=0, yref="y3", xanchor="center", yanchor="bottom",
                            xshift=-1, yshift=1, textangle=-90, text=f"<b>{p}%</b>", showarrow=False,
                            font=dict(family=FONT, size=8, color="#0000ff")))

def txt(px, py, s, size=10, bold=False, anchor="left"):
    annotations.append(dict(x=px_x(px), xref="paper", y=px_y(py), yref="paper", xanchor=anchor,
                            yanchor="middle", text=(f"<b>{s}</b>" if bold else s), showarrow=False,
                            font=dict(family=FONT, size=size, color="black")))

txt(58, 258, "Températures 2m")
txt(58, 480, "Précipitations")
txt(18, 607, "(°C)", 10.5)
txt(706, 607, "(mm)", 10.5)
txt(73, 647, "Moyenne des scénarios")
txt(263, 637, "Run de contrôle")
txt(263, 647, "Run GFS")
txt(178, 660, "Altitude du modele : 72m")
txt(27, 677, "Diagramme des ensembles GEFS sur 384h : 50.8N 4.4E", 11.6, bold=True)
txt(28, 691, "Température 2m (°C) , précipitations (mm)")
txt(368, 652, "20 Perturbations")
txt(447, 672, "Ensemble GEFS du 13/01/2017 - 00Z")
txt(447, 691, "Copyright 2017 Meteociel.fr", 11.6, bold=True)

# legend swatches
def pline(x0, x1, py, color, w):
    shapes.append(dict(type="line", xref="paper", yref="paper", x0=px_x(x0), x1=px_x(x1),
                       y0=px_y(py), y1=px_y(py), line=dict(color=color, width=w)))

pline(35, 65, 647, "#ff0000", 5)
pline(225, 255, 637, "#0000ff", 5)
pline(225, 255, 647, "black", 5)
shapes.append(dict(type="rect", xref="paper", yref="paper", x0=px_x(20), x1=px_x(440),
                   y0=px_y(667), y1=px_y(699), line=dict(color="black", width=1)))
for i, (nm, c) in enumerate(zip(member_names, member_colors)):
    x0 = 470 + 11 * i
    shapes.append(dict(type="rect", xref="paper", yref="paper", x0=px_x(x0), x1=px_x(x0 + 10),
                       y0=px_y(656), y1=px_y(650), line=dict(width=0), fillcolor=c))
    annotations.append(dict(x=px_x(x0 + 5), xref="paper", y=px_y(643), yref="paper", xanchor="center",
                            yanchor="middle", text=nm, showarrow=False,
                            font=dict(family=FONT, size=8, color="black")))

fig.update_layout(
    width=W, height=H, margin=dict(l=ML, r=MR, t=MT, b=MB),
    paper_bgcolor="white", plot_bgcolor="white",
    font=dict(family=FONT, size=10, color="black"),
    showlegend=False, bargap=0,
    xaxis=dict(range=[0, 384], tickvals=day_hours, showticklabels=False, showgrid=True,
               gridcolor="#c0c0c0", gridwidth=1, zeroline=False, showline=True, linecolor="black",
               linewidth=1, ticks="outside", ticklen=3, tickcolor="#c0c0c0"),
    yaxis=dict(range=[-Y_HALF, Y_HALF], tickvals=temp_ticks, showticklabels=False, showgrid=True,
               gridcolor="#c0c0c0", gridwidth=1, zeroline=False, ticks=""),
    yaxis2=dict(range=[-Y_HALF + 35, Y_HALF + 35], overlaying="y", side="right", anchor="x",
                tickvals=precip_ticks, showgrid=False, zeroline=False, ticks="",
                ticklabelstandoff=18, tickfont=dict(family=FONT, size=10.5)),
    yaxis3=dict(range=[-(H - MB - SNOW_BASE_PX) / SNOW_PX_PER_PCT, SNOW_BASE_PX / SNOW_PX_PER_PCT],
                overlaying="y", visible=False, anchor="x"),
    annotations=annotations, shapes=shapes,
)

fig.write_html("out.html", config={"displayModeBar": False},
               post_script="document.body.style.margin='0px';document.body.style.overflow='hidden';")
